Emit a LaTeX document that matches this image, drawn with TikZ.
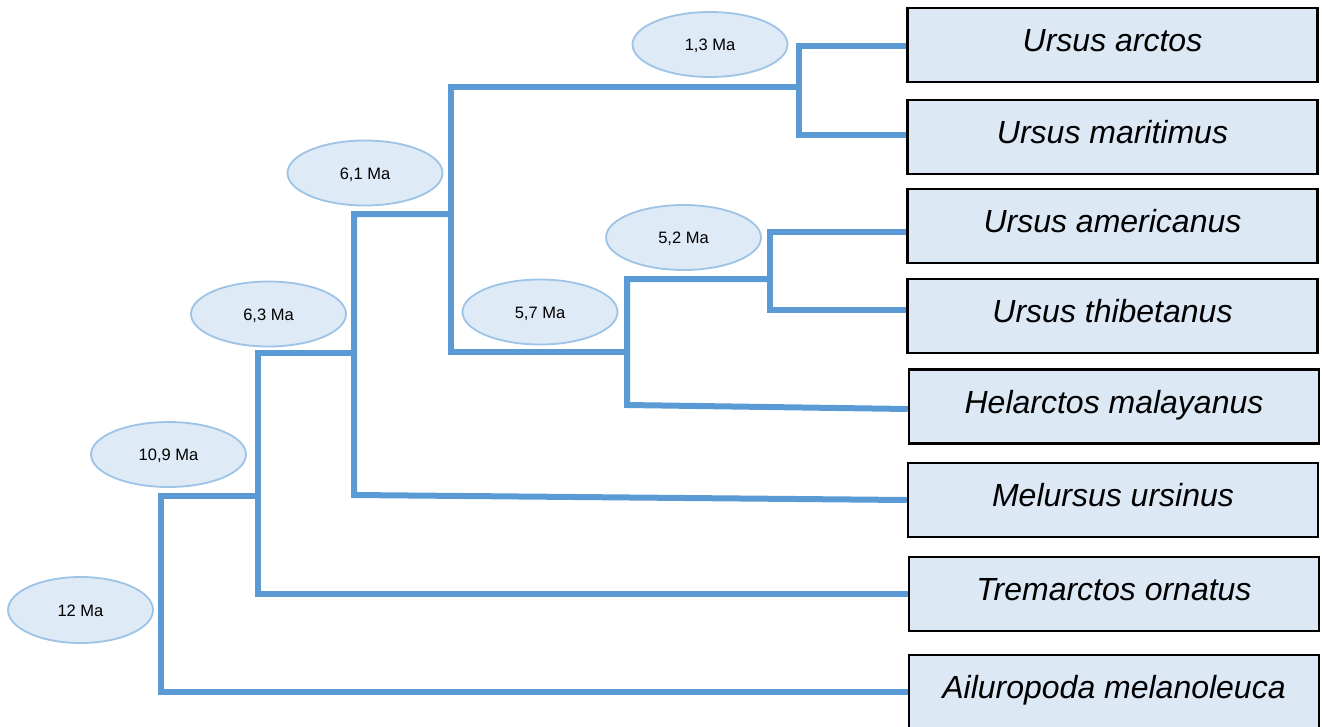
\documentclass[tikz,border=0pt]{standalone}
\usepackage{fontspec}
\setmainfont{Liberation Sans}
\usetikzlibrary{shapes.geometric,backgrounds}
\definecolor{branch}{HTML}{5B9BD5}
\definecolor{ellfill}{HTML}{DEEAF6}
\definecolor{elldraw}{HTML}{9DC3E6}
\definecolor{boxfill}{HTML}{DDE8F5}
\begin{document}
\begin{tikzpicture}[x=1pt,y=-1pt,
  br/.style={draw=branch,line width=6pt,line join=miter},
  age/.style={ellipse,draw=elldraw,line width=1.8pt,fill=ellfill,minimum width=155pt,minimum height=65pt,inner sep=0pt,text height=12pt,text depth=0pt,font=\fontsize{16.5}{20}\selectfont},
  taxon/.style={rectangle,draw=black,line width=2.5pt,fill=boxfill,minimum width=410pt,minimum height=74pt,inner sep=0pt,text height=23pt,text depth=10pt,font=\fontsize{32}{38}\selectfont\itshape}]
\useasboundingbox (0,0) rectangle (1322,726);
\clip (0,0) rectangle (1322,726);
% taxa boxes
\node[taxon] (b1) at (1112.5,45) {Ursus arctos};
\node[taxon] (b2) at (1112.5,137) {Ursus maritimus};
\node[taxon] (b3) at (1112.5,226) {Ursus americanus};
\node[taxon] (b4) at (1112.5,316) {Ursus thibetanus};
\node[taxon] (b5) at (1114,406.5) {Helarctos malayanus};
\node[taxon] (b6) at (1113,500) {Melursus ursinus};
\node[taxon] (b7) at (1114,594) {Tremarctos ornatus};
\node[taxon] (b8) at (1114,692) {Ailuropoda melanoleuca};
% clade join points
\coordinate (n13) at (799,87);
\coordinate (n52) at (770,279);
\coordinate (n57) at (627,352);
\coordinate (n57b) at (627,405);
\coordinate (n61) at (451,214);
\coordinate (n63) at (354,353);
\coordinate (n63b) at (354,495);
\coordinate (n109) at (258,496);
\coordinate (n12) at (161,600);
% branches
\begin{scope}[on background layer]
\draw[br] ([yshift=-1pt]b1.west) -| (n13) |- ([yshift=2pt]b2.west);
\draw[br] ([yshift=-6pt]b3.west) -| (n52) |- ([yshift=6pt]b4.west);
\draw[br] (n52) -| (n57) -- (n57b) -- ([yshift=-2.5pt]b5.west);
\draw[br] (n13) -| (n61) |- (n57);
\draw[br] (n61) -| (n63) -- (n63b) -- (b6.west);
\draw[br] (n63) -| (n109) |- (b7.west);
\draw[br] (n109) -| (n12) |- (b8.west);
\end{scope}
% ages
\node[age] (a13) at (710,44.5) {1,3 Ma};
\node[age] (a61) at (365,173) {6,1 Ma};
\node[age] (a52) at (683.5,237.5) {5,2 Ma};
\node[age] (a57) at (540,312) {5,7 Ma};
\node[age] (a63) at (268.5,314) {6,3 Ma};
\node[age] (a109) at (168.5,454.5) {10,9 Ma};
\node[age,minimum width=145pt,minimum height=66pt] (a12) at (80.5,610) {12 Ma};
\end{tikzpicture}
\end{document}
